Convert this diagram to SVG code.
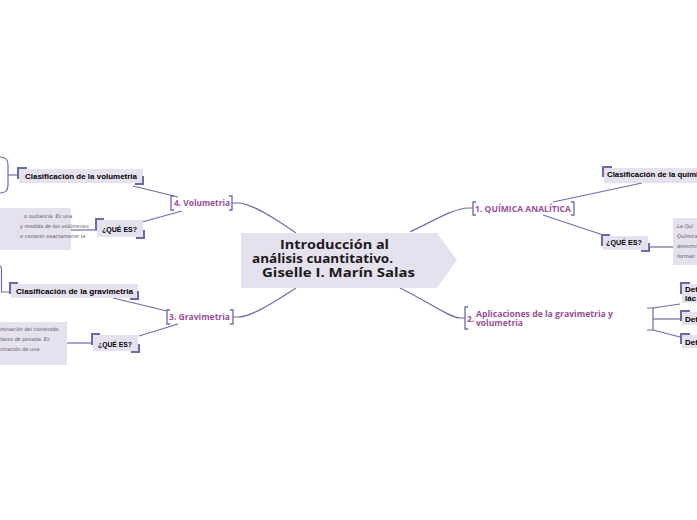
<svg xmlns="http://www.w3.org/2000/svg" width="697" height="520" viewBox="0 0 697 520">
<style>
.bg{fill:#ffffff}
.box{fill:#e6e1ee}
.brk{fill:none;stroke:#6b69a8;stroke-width:2}
.nb{fill:none;stroke:#6b69a8;stroke-width:1.3}
.ln{fill:none;stroke:#6e6cab;stroke-width:1.2}
.main{font-family:"Open Sans","DejaVu Sans",sans-serif;font-weight:bold;font-size:12px;fill:#1a1a1a}
.lab{font-family:"Open Sans","DejaVu Sans",sans-serif;font-weight:bold;font-size:8.5px;fill:#9a4d98}
.sub{font-family:"Liberation Sans","DejaVu Sans",sans-serif;font-weight:bold;font-size:8px;fill:#000}
.desc{font-family:"DejaVu Sans",sans-serif;font-style:italic;font-size:5px;fill:#555}
</style>
<rect class="bg" x="0" y="0" width="697" height="520"/>

<g id="connectors">
  <path class="ln" d="M296,233 C270,215 250,203 238,203 L232,203"/>
  <path class="ln" d="M296,288 C270,305 250,317 238,317 L233,317"/>
  <path class="ln" d="M410,232 C435,220 455,208 468,208 L473,208"/>
  <path class="ln" d="M400,288 C425,300 450,318 460,318 L465,318"/>
  <path class="ln" d="M178,197 L133,186"/>
  <path class="ln" d="M182,211 L142,222"/>
  <path class="ln" d="M71,230 L97,230"/>
  <path class="ln" d="M167,311 L113,298"/>
  <path class="ln" d="M178,324 L139,336"/>
  <path class="ln" d="M67,343 L93,343"/>
  <path class="ln" d="M553,202 L642,183"/>
  <path class="ln" d="M543,215 L603,235"/>
  <path class="ln" d="M648,247 L673,247"/>
  <path class="ln" d="M8,175 L17,175"/>
  <path class="ln" d="M0,157 Q8,157 8,165 L8,185 Q8,193 0,193"/>
  <path class="ln" d="M0,266 Q1.5,266 1.5,270 L1.5,292 L9,292"/>
  <path class="ln" d="M647,308 L653,308 L653,330 L647,330"/>
  <path class="ln" d="M653,308 L680,304"/>
  <path class="ln" d="M653,319 L680,319"/>
  <path class="ln" d="M653,330 L680,337"/>
</g>

<g id="central">
  <polygon class="box" points="241,233 437,233 457,260 437,288 241,288"/>
  <text class="main" x="280" y="249" textLength="109" lengthAdjust="spacingAndGlyphs">Introducción al</text>
  <text class="main" x="252" y="263" textLength="141" lengthAdjust="spacingAndGlyphs">análisis cuantitativo.</text>
  <text class="main" x="262" y="277" textLength="153" lengthAdjust="spacingAndGlyphs">Giselle I. Marín Salas</text>
</g>

<g id="n4">
  <path class="nb" d="M174,196 L171,196 L171,210 L174,210"/>
  <path class="nb" d="M229,196 L232,196 L232,210 L229,210"/>
  <text class="lab" x="174" y="206" textLength="56" lengthAdjust="spacingAndGlyphs">4. Volumetria</text>
</g>
<g id="n4a">
  <rect class="box" x="19" y="169" width="124" height="14"/>
  <path class="brk" d="M18,179 L18,168 L27,168"/>
  <path class="brk" d="M143,176 L143,184 L135,184"/>
  <text class="sub" x="25" y="179" textLength="112" lengthAdjust="spacingAndGlyphs">Clasificación de la volumetria</text>
</g>
<g id="n4b">
  <rect class="box" x="97" y="220" width="46" height="17"/>
  <path class="brk" d="M96,230 L96,219 L104,219"/>
  <path class="brk" d="M144,230 L144,238 L136,238"/>
  <text class="sub" x="102" y="232" textLength="35" lengthAdjust="spacingAndGlyphs">¿QUÉ ES?</text>
</g>
<g id="n4c">
  <rect class="box" x="0" y="208" width="71" height="42"/>
  <text class="desc" x="24" y="218">o sustancia. Es una</text>
  <text class="desc" x="20" y="228">y medida de los volúmenes</text>
  <text class="desc" x="20" y="238">e conocer exactamente la</text>
</g>

<g id="n3">
  <path class="nb" d="M170,310 L167,310 L167,324 L170,324"/>
  <path class="nb" d="M230,310 L233,310 L233,324 L230,324"/>
  <text class="lab" x="169" y="320" textLength="61" lengthAdjust="spacingAndGlyphs">3. Gravimetria</text>
</g>
<g id="n3a">
  <rect class="box" x="11" y="284" width="127" height="14"/>
  <path class="brk" d="M10,294 L10,283 L18,283"/>
  <path class="brk" d="M138,291 L138,299 L130,299"/>
  <text class="sub" x="16" y="294" textLength="117" lengthAdjust="spacingAndGlyphs">Clasificación de la gravimetria</text>
</g>
<g id="n3b">
  <rect class="box" x="93" y="335" width="45" height="16"/>
  <path class="brk" d="M92,345 L92,334 L100,334"/>
  <path class="brk" d="M139,344 L139,352 L131,352"/>
  <text class="sub" x="98" y="347" textLength="34" lengthAdjust="spacingAndGlyphs">¿QUÉ ES?</text>
</g>
<g id="n3c">
  <rect class="box" x="0" y="322" width="67" height="43"/>
  <text class="desc" x="0" y="331">minación del contenido</text>
  <text class="desc" x="0" y="341">fases de pesada. Es</text>
  <text class="desc" x="0" y="351">ntración de una</text>
</g>

<g id="n1">
  <path class="nb" d="M476,202 L473,202 L473,215 L476,215"/>
  <path class="nb" d="M571,202 L574,202 L574,215 L571,215"/>
  <text class="lab" x="475" y="212" textLength="96" lengthAdjust="spacingAndGlyphs">1. QUÍMICA ANALÍTICA</text>
</g>
<g id="n1a">
  <rect class="box" x="604" y="168" width="100" height="15"/>
  <path class="brk" d="M603,177 L603,167 L612,167"/>
  <text class="sub" x="607" y="177" textLength="100" lengthAdjust="spacingAndGlyphs">Clasificación de la química</text>
</g>
<g id="n1b">
  <rect class="box" x="603" y="236" width="45" height="14"/>
  <path class="brk" d="M602,246 L602,235 L610,235"/>
  <path class="brk" d="M649,243 L649,251 L641,251"/>
  <text class="sub" x="606" y="245" textLength="36" lengthAdjust="spacingAndGlyphs">¿QUÉ ES?</text>
</g>
<g id="n1c">
  <rect class="box" x="673" y="218" width="40" height="47"/>
  <text class="desc" x="677" y="228">La Quí</text>
  <text class="desc" x="677" y="238">Química</text>
  <text class="desc" x="677" y="248">determi</text>
  <text class="desc" x="677" y="258">forman</text>
</g>

<g id="n2">
  <path class="nb" d="M468,307 L465,307 L465,329 L468,329"/>
  <text class="lab" x="467" y="322" textLength="7" lengthAdjust="spacingAndGlyphs">2.</text>
  <text class="lab" x="476" y="317" textLength="137" lengthAdjust="spacingAndGlyphs">Aplicaciones de la gravimetria y</text>
  <text class="lab" x="476" y="326" textLength="47" lengthAdjust="spacingAndGlyphs">volumetria</text>
</g>
<g id="n2a">
  <rect class="box" x="682" y="284" width="30" height="19"/>
  <path class="brk" d="M681,294 L681,283 L690,283"/>
  <text class="sub" x="685" y="292">Dete</text>
  <text class="sub" x="685" y="301">lác</text>
</g>
<g id="n2b">
  <rect class="box" x="682" y="312" width="30" height="13"/>
  <path class="brk" d="M681,321 L681,311 L690,311"/>
  <text class="sub" x="685" y="322">Dete</text>
</g>
<g id="n2c">
  <rect class="box" x="682" y="335" width="30" height="13"/>
  <path class="brk" d="M681,344 L681,334 L690,334"/>
  <text class="sub" x="685" y="345">Dete</text>
</g>
</svg>
